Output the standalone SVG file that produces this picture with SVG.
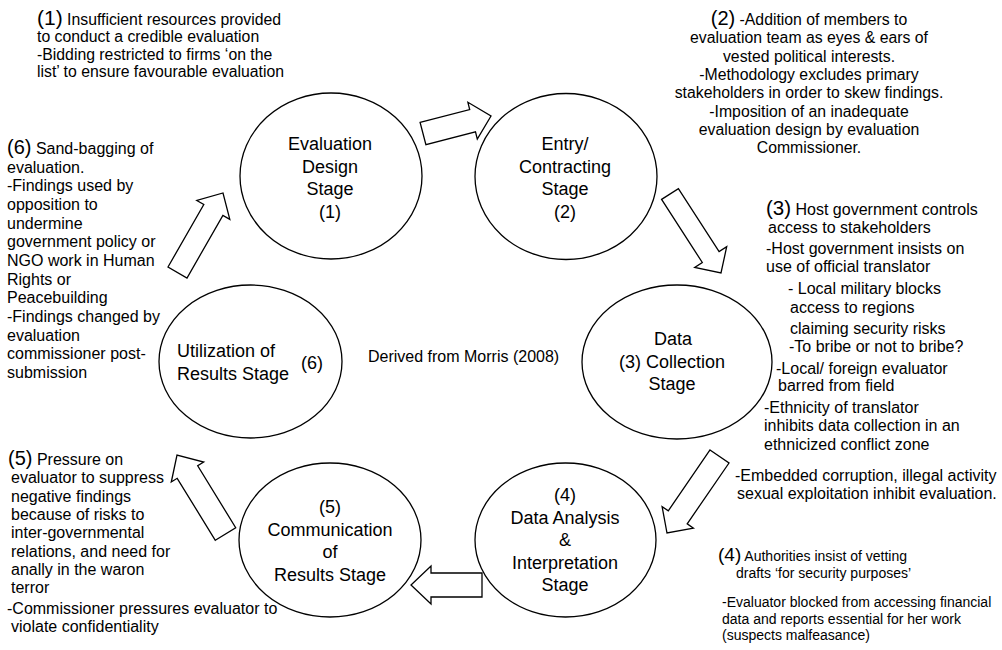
<svg xmlns="http://www.w3.org/2000/svg" width="1002" height="650" viewBox="0 0 1002 650">
  <style>
    text { font-family: "Liberation Sans", Arial, sans-serif; fill: #000; }
    .stage { fill: #fff; stroke: #000; stroke-width: 1.3; }
    .lbl { font-size: 18px; text-anchor: middle; }
    .arrow { fill: #fff; stroke: #000; stroke-width: 1.3; stroke-linejoin: miter; }
    .num { font-size: 20px; }
    .b1 { font-size: 15.8px; }
    .b2 { font-size: 15.8px; text-anchor: middle; }
    .b3 { font-size: 16px; }
    .b4 { font-size: 14px; }
    .b56 { font-size: 16px; }
    .note { font-size: 16px; }
  </style>

  <!-- block arrows between stages -->
  <g id="connectors">
    <polygon class="arrow" points="420.1,122.4 469.7,109.6 467.9,102.3 491,116 477.3,139.1 475.5,131.9 425.9,144.6"/>
    <polygon class="arrow" points="661.6,199.4 678.4,188.6 719.1,251.6 726.7,246.7 721,273 694.7,267.4 702.3,262.5"/>
    <polygon class="arrow" points="710,450 729,463 687.2,523.8 693.4,528.1 667,533 662.1,506.6 668.3,510.8"/>
    <polygon class="arrow" points="482,573 482,597 431,597 431,604 411,585 431,566 431,573"/>
    <polygon class="arrow" points="215.3,540.3 235.7,527.7 197.7,465.8 203.7,462.1 177,455 171.3,482 177.2,478.3"/>
    <polygon class="arrow" points="168,267 203.8,204.5 196.8,200.5 223,193 229.8,219.4 222.9,215.4 187,278"/>
  </g>

  <g id="stage1">
    <ellipse class="stage" cx="331" cy="176" rx="91" ry="83"/>
    <text class="lbl" x="330" y="150">Evaluation</text>
    <text class="lbl" x="330" y="172.5">Design</text>
    <text class="lbl" x="330" y="195">Stage</text>
    <text class="lbl" x="330" y="217.5">(1)</text>
  </g>

  <g id="stage2">
    <ellipse class="stage" cx="566" cy="176.5" rx="91" ry="83"/>
    <text class="lbl" x="565" y="150">Entry/</text>
    <text class="lbl" x="565" y="172.5">Contracting</text>
    <text class="lbl" x="565" y="195">Stage</text>
    <text class="lbl" x="565" y="217.5">(2)</text>
  </g>

  <g id="stage3">
    <ellipse class="stage" cx="677" cy="362" rx="95" ry="77"/>
    <text class="lbl" x="673" y="345">Data</text>
    <text class="lbl" x="672" y="367.5">(3) Collection</text>
    <text class="lbl" x="672" y="390">Stage</text>
  </g>

  <g id="stage4">
    <ellipse class="stage" cx="565.5" cy="540" rx="90.5" ry="77"/>
    <text class="lbl" x="565" y="501">(4)</text>
    <text class="lbl" x="565" y="523.5">Data Analysis</text>
    <text class="lbl" x="565" y="546">&amp;</text>
    <text class="lbl" x="565" y="568.5">Interpretation</text>
    <text class="lbl" x="565" y="591">Stage</text>
  </g>

  <g id="stage5">
    <ellipse class="stage" cx="330" cy="540" rx="91" ry="77"/>
    <text class="lbl" x="330" y="513">(5)</text>
    <text class="lbl" x="330" y="535.5">Communication</text>
    <text class="lbl" x="330" y="558">of</text>
    <text class="lbl" x="330" y="580.5">Results Stage</text>
  </g>

  <g id="stage6">
    <ellipse class="stage" cx="250.5" cy="361.5" rx="91.5" ry="76.5"/>
    <text class="lbl" x="177" y="357" style="text-anchor:start">Utilization of</text>
    <text class="lbl" x="177" y="380" style="text-anchor:start">Results Stage</text>
    <text class="lbl" x="301" y="369" style="text-anchor:start">(6)</text>
  </g>

  <g id="source-note">
    <text class="note" x="368" y="362">Derived from Morris (2008)</text>
  </g>

  <g id="risks1">
    <text class="b1" x="37" y="25"><tspan class="num" style="font-size:21px">(1)</tspan> Insufficient resources provided</text>
    <text class="b1" x="37" y="42.3">to conduct a credible evaluation</text>
    <text class="b1" x="37" y="59.8">-Bidding restricted to firms ‘on the</text>
    <text class="b1" x="37" y="77.3">list’ to ensure favourable evaluation</text>
  </g>

  <g id="risks2">
    <text class="b2" x="809" y="25"><tspan class="num">(2)</tspan> -Addition of members to</text>
    <text class="b2" x="809" y="43.3">evaluation team as eyes &amp; ears of</text>
    <text class="b2" x="809" y="61.6">vested political interests.</text>
    <text class="b2" x="809" y="80">-Methodology excludes primary</text>
    <text class="b2" x="809" y="98.3">stakeholders in order to skew findings.</text>
    <text class="b2" x="809" y="116.6">-Imposition of an inadequate</text>
    <text class="b2" x="809" y="135">evaluation design by evaluation</text>
    <text class="b2" x="809" y="153">Commissioner.</text>
  </g>

  <g id="risks3">
    <text class="b3" x="766" y="215"><tspan class="num" style="font-size:20.5px">(3)</tspan> Host government controls</text>
    <text class="b3" x="768" y="233">access to stakeholders</text>
    <text class="b3" x="766" y="253.5">-Host government insists on</text>
    <text class="b3" x="766" y="271.5">use of official translator</text>
    <text class="b3" x="788" y="294">- Local military blocks</text>
    <text class="b3" x="790" y="312.5">access to regions</text>
    <text class="b3" x="790" y="334">claiming security risks</text>
    <text class="b3" x="789" y="352">-To bribe or not to bribe?</text>
    <text class="b3" x="776" y="373.5">-Local/ foreign evaluator</text>
    <text class="b3" x="778" y="391">barred from field</text>
    <text class="b3" x="764" y="413">-Ethnicity of translator</text>
    <text class="b3" x="764" y="431">inhibits data collection in an</text>
    <text class="b3" x="764" y="449.5">ethnicized conflict zone</text>
    <text class="b3" x="735" y="481">-Embedded corruption, illegal activity</text>
    <text class="b3" x="737" y="499">sexual exploitation inhibit evaluation.</text>
  </g>

  <g id="risks4">
    <text class="b4" x="718" y="561"><tspan class="num" style="font-size:19px">(4)</tspan> Authorities insist of vetting</text>
    <text class="b4" x="736" y="577.5">drafts ‘for security purposes’</text>
    <text class="b4" x="722" y="607">-Evaluator blocked from accessing financial</text>
    <text class="b4" x="722" y="623.5">data and reports essential for her work</text>
    <text class="b4" x="722" y="640">(suspects malfeasance)</text>
  </g>

  <g id="risks5">
    <text class="b56" x="8" y="465"><tspan class="num">(5)</tspan> Pressure on</text>
    <text class="b56" x="11" y="483.3">evaluator to suppress</text>
    <text class="b56" x="11" y="501.6">negative findings</text>
    <text class="b56" x="11" y="520">because of risks to</text>
    <text class="b56" x="11" y="538.3">inter-governmental</text>
    <text class="b56" x="11" y="556.6">relations, and need for</text>
    <text class="b56" x="11" y="575">anally in the waron</text>
    <text class="b56" x="11" y="593.3">terror</text>
    <text class="b56" x="7" y="614">-Commissioner pressures evaluator to</text>
    <text class="b56" x="11" y="632">violate confidentiality</text>
  </g>

  <g id="risks6">
    <text class="b56" x="7" y="154"><tspan class="num">(6)</tspan> Sand-bagging of</text>
    <text class="b56" x="7" y="172.7">evaluation.</text>
    <text class="b56" x="7" y="191.4">-Findings used by</text>
    <text class="b56" x="7" y="210">opposition to</text>
    <text class="b56" x="7" y="228.7">undermine</text>
    <text class="b56" x="7" y="247.4">government policy or</text>
    <text class="b56" x="7" y="266">NGO work in Human</text>
    <text class="b56" x="7" y="284.7">Rights or</text>
    <text class="b56" x="7" y="303.4">Peacebuilding</text>
    <text class="b56" x="7" y="322">-Findings changed by</text>
    <text class="b56" x="7" y="340.7">evaluation</text>
    <text class="b56" x="7" y="359.4">commissioner post-</text>
    <text class="b56" x="7" y="378">submission</text>
  </g>
</svg>
